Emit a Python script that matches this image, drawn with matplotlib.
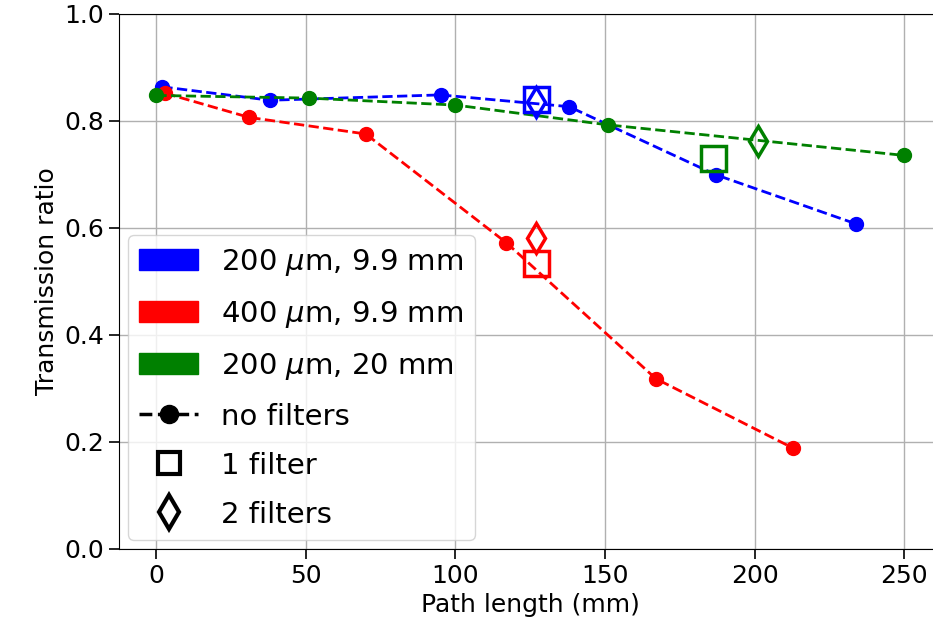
import matplotlib
matplotlib.use("Agg")
import matplotlib.pyplot as plt
import matplotlib.patches as mpatches
from matplotlib.lines import Line2D

# no filters
blue_x = [2, 38, 95, 138, 187, 234]
blue_y = [0.863, 0.838, 0.848, 0.826, 0.699, 0.607]
red_x = [3, 31, 70, 117, 167, 213]
red_y = [0.851, 0.806, 0.775, 0.572, 0.318, 0.188]
green_x = [0, 51, 100, 151, 250]
green_y = [0.847, 0.842, 0.829, 0.792, 0.735]

# 1 filter (squares) and 2 filters (diamonds)
sq_x = [127, 127, 186]
sq_y = [0.840, 0.535, 0.730]
sq_c = ['blue', 'red', 'green']
dm_x = [127, 127, 201]
dm_y = [0.834, 0.581, 0.761]
dm_c = ['blue', 'red', 'green']

labels = [r'200 $\mu$m, 9.9 mm', r'400 $\mu$m, 9.9 mm', r'200 $\mu$m, 20 mm']
colors = ['blue', 'red', 'green']

plt.rcParams['font.size'] = 18
plt.rcParams['font.family'] = 'DejaVu Sans'

fig = plt.figure(figsize=(9.33, 6.41), dpi=100)
ax = fig.add_axes([119/933, 1 - 549/641, (941.5 - 119)/933, (549 - 13.5)/641])

for xs, ys, c in [(blue_x, blue_y, 'blue'), (red_x, red_y, 'red'), (green_x, green_y, 'green')]:
    ax.plot(xs, ys, '--o', color=c, lw=2, ms=10)

for x, y, c in zip(sq_x, sq_y, sq_c):
    ax.plot(x, y, 's', mfc='none', mec=c, ms=18, mew=2.5, zorder=4)
for x, y, c in zip(dm_x, dm_y, dm_c):
    ax.plot(x, y, 'd', mfc='none', mec=c, ms=15, mew=2.5, zorder=4)

ax.set_xlim(-12.5, 262.5)
ax.set_ylim(0, 1.0)
ax.set_xticks([0, 50, 100, 150, 200, 250])
ax.set_yticks([0.0, 0.2, 0.4, 0.6, 0.8, 1.0])
ax.grid(True, color='#b0b0b0', lw=1)
ax.tick_params(length=7, width=1.2, labelsize=18)
ax.set_xlabel('Path length (mm)')
ax.set_ylabel('Transmission ratio')

handles = [mpatches.Patch(color=c, label=l) for c, l in zip(colors, labels)]
handles.append(Line2D([], [], color='k', ls='--', marker='o', ms=13, lw=2.5, label='no filters'))
handles.append(Line2D([], [], color='k', ls='none', marker='s', mfc='none', ms=16, mew=3, label='1 filter'))
handles.append(Line2D([], [], color='k', ls='none', marker='d', mfc='none', ms=17, mew=3, label='2 filters'))
ax.legend(handles=handles, loc='lower left', fontsize=21, labelspacing=0.72,
          borderaxespad=0.3)

fig.savefig('out.png', dpi=100)
